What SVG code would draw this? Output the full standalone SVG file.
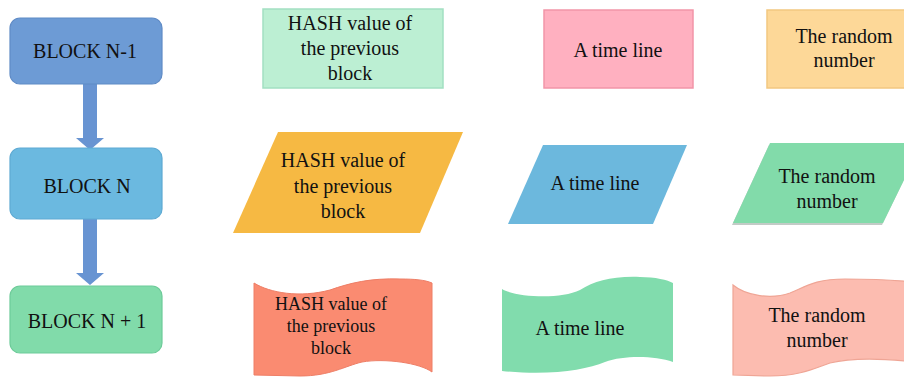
<svg xmlns="http://www.w3.org/2000/svg" width="904" height="378" viewBox="0 0 904 378">
<defs>
<style>
.t{font-family:"Liberation Serif","DejaVu Serif",serif;font-size:20px;fill:#111;text-anchor:middle}
.s{font-size:18px}
.blk{stroke-width:1.2}
.arrow{fill:#6894d2}
</style>
</defs>
<rect width="904" height="378" fill="#fff"/>
<g id="connectors">
<path class="arrow" d="M76,138 L90,150 L104,138 L97,138 L97,84 L83,84 L83,138 Z"/>
<path class="arrow" d="M76,273 L90,285 L104,273 L97,273 L97,219 L83,219 L83,273 Z"/>
</g>
<g id="block-n-1">
<rect x="10" y="18" width="152" height="66" rx="10" fill="#6d9bd5" stroke="#5f8bc6" class="blk"/>
<text class="t" x="85" y="58">BLOCK N-1</text>
</g>
<g id="block-n">
<rect x="10" y="148" width="152" height="71" rx="10" fill="#6bb9e0" stroke="#5eaad3" class="blk"/>
<text class="t" x="87" y="193">BLOCK N</text>
</g>
<g id="block-n1">
<rect x="10" y="286" width="152" height="67" rx="10" fill="#81dbaa" stroke="#6dcb99" class="blk"/>
<text class="t" x="87" y="328">BLOCK N + 1</text>
</g>
<g id="hash-rect">
<rect x="263" y="9" width="180" height="79" fill="#bcefd3" stroke="#a2e0c2" stroke-width="1.5"/>
<text class="t" x="350" y="30">HASH value of</text>
<text class="t" x="350" y="55">the previous</text>
<text class="t" x="350" y="80">block</text>
</g>
<g id="time-rect">
<rect x="544" y="10" width="149" height="78" fill="#ffb0c0" stroke="#f295a8" stroke-width="1.5"/>
<text class="t" x="618" y="57">A time line</text>
</g>
<g id="random-rect">
<rect x="767" y="10" width="145" height="78" fill="#fdd898" stroke="#f2c780" stroke-width="1.5"/>
<text class="t" x="844" y="43">The random</text>
<text class="t" x="844" y="67">number</text>
</g>
<g id="hash-para">
<path d="M278,132 L463,132 L420,233 L233,233 Z" fill="#f6b943"/>
<text class="t" x="343" y="167">HASH value of</text>
<text class="t" x="343" y="193">the previous</text>
<text class="t" x="343" y="218">block</text>
</g>
<g id="time-para">
<path d="M543,145 L687,145 L653,224 L508,224 Z" fill="#6cb8dd"/>
<text class="t" x="595" y="190">A time line</text>
</g>
<g id="random-para">
<path d="M770,143 L922,143 L883,223 L733,223 Z" fill="#9aa8a0" opacity="0.6" transform="translate(-1,2)"/>
<path d="M770,143 L922,143 L883,223 L733,223 Z" fill="#82dbaa"/>
<text class="t" x="827" y="183">The random</text>
<text class="t" x="827" y="208">number</text>
</g>
<g id="hash-tape">
<path d="M254,283 C270,293 300,298 330,290 C350,283 370,278 400,279 C415,279 425,280 432,283 L432,372 C420,363 385,358 362,362 C345,366 330,376 300,376 L254,375 Z" fill="#fa8b71" stroke="#ee7e66" stroke-width="1"/>
<text class="t s" x="331" y="310">HASH value of</text>
<text class="t s" x="331" y="332">the previous</text>
<text class="t s" x="331" y="354">block</text>
</g>
<g id="time-tape">
<path d="M502,289 C515,297 560,300 580,290 C595,281 612,276 640,277 C655,277 668,280 673,283 L673,362 C655,356 625,355 605,362 C585,370 550,376 502,371 Z" fill="#81dcad"/>
<text class="t" x="580" y="335">A time line</text>
</g>
<g id="random-tape">
<path d="M733,285 C745,295 770,300 790,293 C805,287 815,279 845,279 C870,279 895,280 915,282 L915,362 C880,358 850,358 830,363 C815,368 800,376 770,376 L733,375 Z" fill="#fcbcb0" stroke="#efa595" stroke-width="1.2"/>
<text class="t" x="817" y="322">The random</text>
<text class="t" x="817" y="347">number</text>
</g>
</svg>
